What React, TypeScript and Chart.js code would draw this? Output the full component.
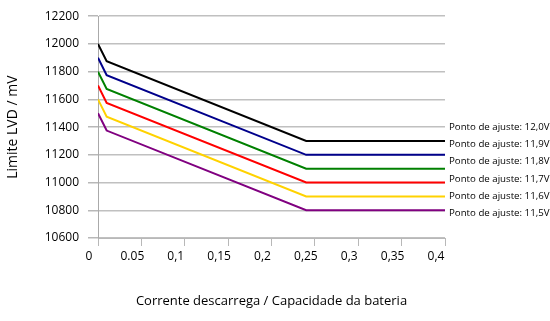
import React, { useEffect, useRef } from "react";
import { Chart, registerables } from "chart.js";

Chart.register(...registerables);

// ---- data ----
const xPoints = [0, 0.01, 0.24, 0.4];
const xTickLabels = ["0", "0.05", "0,1", "0,15", "0,2", "0,25", "0,3", "0,35", "0,4"];
const seriesNames = [
  "Ponto de ajuste: 12,0V",
  "Ponto de ajuste: 11,9V",
  "Ponto de ajuste: 11,8V",
  "Ponto de ajuste: 11,7V",
  "Ponto de ajuste: 11,6V",
  "Ponto de ajuste: 11,5V",
];
const set120 = [12000, 11875, 11300, 11300];
const set119 = [11900, 11775, 11200, 11200];
const set118 = [11800, 11675, 11100, 11100];
const set117 = [11700, 11575, 11000, 11000];
const set116 = [11600, 11475, 10900, 10900];
const set115 = [11500, 11375, 10800, 10800];
const seriesValues = [set120, set119, set118, set117, set116, set115];

const colors = ["#000000", "#00008b", "#008000", "#ff0000", "#ffd200", "#800080"];
const FONT = "'Open Sans', 'Noto Sans', sans-serif";

const endLabels = {
  id: "endLabels",
  afterDraw(chart: any) {
    const { ctx, chartArea } = chart;
    const ys = chart.scales.y;
    const first = seriesValues[0][seriesValues[0].length - 1];
    const last = seriesValues[seriesValues.length - 1][seriesValues[0].length - 1];
    const top = ys.getPixelForValue(first) - 14;
    const bottom = ys.getPixelForValue(last) + 3;
    const n = seriesNames.length;
    ctx.save();
    ctx.font = `9.7px ${FONT}`;
    ctx.fillStyle = "#000";
    ctx.textBaseline = "middle";
    ctx.textAlign = "left";
    seriesNames.forEach((name, i) => {
      const y = top + (i * (bottom - top)) / (n - 1);
      ctx.fillText(name, chartArea.right + 4, y);
    });
    ctx.restore();
  },
};

export default function App() {
  const ref = useRef<HTMLCanvasElement | null>(null);
  useEffect(() => {
    if (!ref.current) return;
    const chart = new Chart(ref.current, {
      type: "line",
      data: {
        datasets: seriesValues.map((vals, i) => ({
          label: seriesNames[i],
          data: vals.map((v, j) => ({ x: xPoints[j], y: v })),
          borderColor: colors[i],
          backgroundColor: colors[i],
          borderWidth: 2,
          pointRadius: 0,
          tension: 0,
          fill: false,
        })),
      },
      options: {
        responsive: false,
        animation: false,
        devicePixelRatio: 1,
        layout: { padding: { left: 0, right: 105, top: 13, bottom: 0 } },
        plugins: {
          legend: { display: false },
          tooltip: { enabled: false },
        },
        scales: {
          x: {
            type: "linear",
            min: 0,
            max: 0.4,
            afterFit: (s: any) => {
              s.height = 83;
            },
            afterBuildTicks: (s: any) => {
              s.ticks = xTickLabels.map((_, i) => ({ value: i * 0.05 }));
            },
            ticks: {
              callback: (_v: any, i: number) => xTickLabels[i],
              color: "#000",
              font: { family: FONT, size: 12 },
              padding: 3,
              labelOffset: -9,
              maxRotation: 0,
              autoSkip: false,
            },
            grid: {
              drawOnChartArea: false,
              drawTicks: true,
              tickLength: 8,
              color: "#b8b8b8",
            },
            border: { display: true, color: "#b8b8b8" },
            title: {
              display: true,
              text: "Corrente descarrega / Capacidade da bateria",
              color: "#000",
              font: { family: FONT, size: 13 },
              padding: { top: 4, bottom: 12 },
            },
          },
          y: {
            min: 10600,
            max: 12200,
            afterFit: (s: any) => {
              s.width = 98;
            },
            ticks: {
              stepSize: 200,
              callback: (v: any) => String(v),
              color: "#000",
              font: { family: FONT, size: 12 },
              padding: 9,
            },
            grid: {
              display: true,
              drawOnChartArea: true,
              color: "#c0c0c0",
              lineWidth: 1.5,
              tickLength: 10,
              tickColor: "#b8b8b8",
            },
            border: { display: true, color: "#aaaaaa" },
            title: {
              display: true,
              text: "Limite LVD / mV",
              color: "#000",
              font: { family: FONT, size: 14 },
              padding: { top: 5, bottom: 0 },
            },
          },
        },
      },
      plugins: [endLabels],
    } as any);
    return () => chart.destroy();
  }, []);
  return (
    <div style={{ position: "absolute", left: 0, top: 0, width: 550, height: 321 }}>
      <canvas ref={ref} width={550} height={321} style={{ width: 550, height: 321 }} />
    </div>
  );
}
